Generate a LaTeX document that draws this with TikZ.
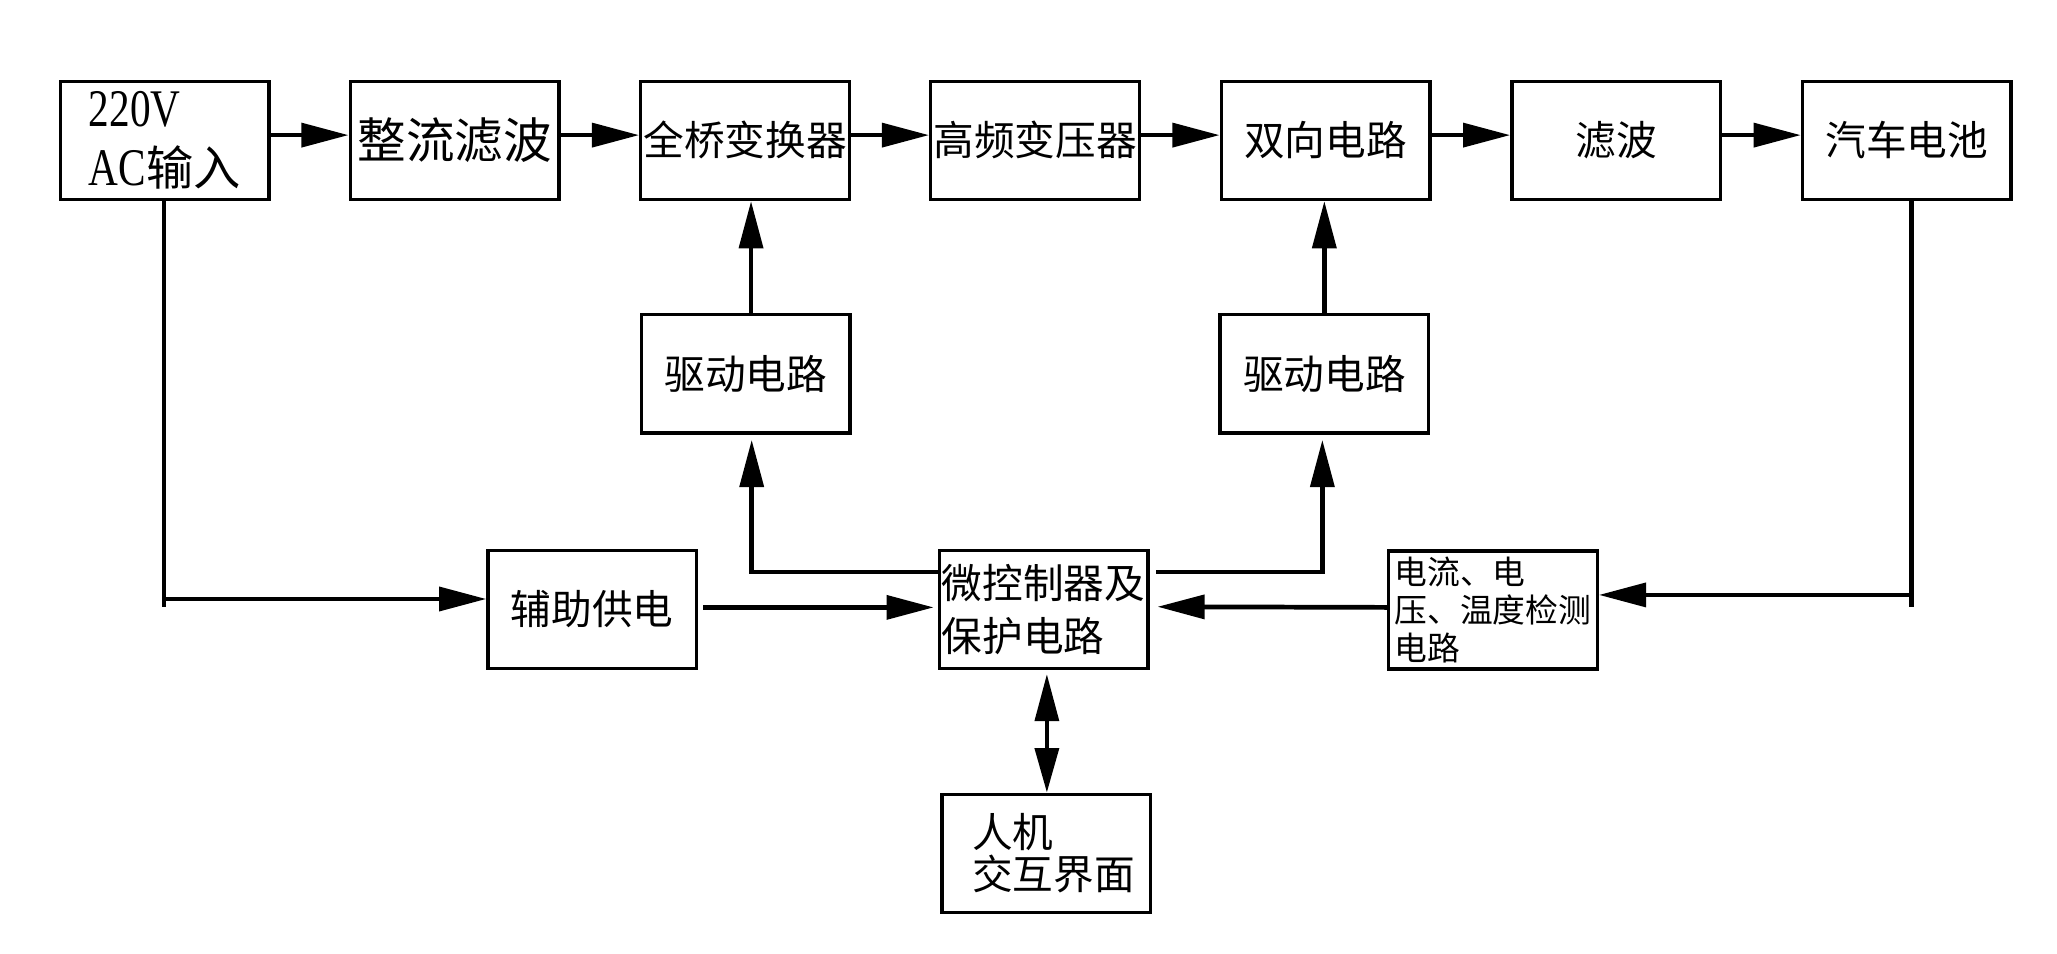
\documentclass[tikz,border=0pt]{standalone}
\usepackage{fontspec}
\setmainfont{Noto Sans CJK SC}
\newfontfamily\latn{Liberation Serif}[FakeStretch=0.78,Scale=1.12]
\usetikzlibrary{arrows.meta}
\tikzset{
  box/.style={draw, line width=1.25pt, minimum width=79.5pt, minimum height=45pt,
    inner sep=0pt, align=left, font=\fontsize{15.5}{20}\selectfont},
  conn/.style={line width=1.8pt},
  arr/.style={conn, -{Triangle[length=18pt,width=9pt]}},
  darr/.style={conn, {Triangle[length=18pt,width=9pt]}-{Triangle[length=17pt,width=9pt]}},
}
\begin{document}
\begin{tikzpicture}[x=0.5pt,y=-0.5pt]
\useasboundingbox (0,0) rectangle (1568,727);
% top row
\node[box, font=\fontsize{18}{22.7}\selectfont] (in) at (125.5,107) {{\latn 220V}\\{\latn AC}输入};
\node[box, font=\fontsize{18.5}{22}\selectfont] (rect) at (346.5,107) {\raisebox{1.5pt}{整流滤波}};
\node[box] (fb) at (568,107) {\raisebox{1.5pt}{全桥变换器}};
\node[box] (hf) at (789,107) {\raisebox{1.5pt}{高频变压器}};
\node[box] (bd) at (1010.5,107) {\raisebox{1.5pt}{双向电路}};
\node[box] (flt) at (1232,107) {\raisebox{1.5pt}{滤波}};
\node[box] (bat) at (1453.5,107) {\raisebox{1.5pt}{汽车电池}};
% drivers
\node[box] (drvL) at (568.5,285) {驱动电路};
\node[box] (drvR) at (1009.5,285) {驱动电路};
% bottom row
\node[box] (aux) at (451.5,464.5) {辅助供电};
\node[box] (mcu) at (795.5,464.5) {\raisebox{-2pt}{微控制器及}\\\raisebox{-2pt}{保护电路}};
\node[box, font=\fontsize{12.5}{14.3}\selectfont] (det) at (1138,465) {电流、电\\压、温度检测\\电路};
\node[box, font=\fontsize{15.5}{16}\selectfont] (hmi) at (797.5,650.5) {\hspace*{5.5pt}人机\\\hspace*{5.5pt}交互界面};
% top row connectors
\draw[arr] ([yshift=2pt]in.east) -- ([yshift=2pt]rect.west);
\draw[arr] ([yshift=2pt]rect.east) -- ([yshift=2pt]fb.west);
\draw[arr] ([yshift=2pt]fb.east) -- ([yshift=2pt]hf.west);
\draw[arr] ([yshift=2pt]hf.east) -- ([yshift=2pt]bd.west);
\draw[arr] ([yshift=2pt]bd.east) -- ([yshift=2pt]flt.west);
\draw[arr] ([yshift=2pt]flt.east) -- ([yshift=2pt]bat.west);
% drivers up
\draw[arr] ([xshift=2pt]drvL.north) -- ([xshift=2pt]drvL.north |- fb.south);
\draw[arr] (drvR.north) -- (drvR.north |- bd.south);
% auxiliary supply from input
\coordinate (jL) at (125,456.6);
\coordinate (jLend) at (125,462.5);
\draw[conn] (jLend |- in.south) -- (jLend);
\draw[arr] (jL) -- (jL -| aux.west);
\draw[arr, shorten <=2pt, shorten >=1.5pt] ([yshift=0.75pt]aux.east) -- ([yshift=0.75pt]mcu.west);
% mcu to drivers
\coordinate (cL) at (573,436);
\coordinate (cR) at (1008,436);
\draw[arr, shorten >=2pt] (mcu.west |- cL) -- (cL) -- (cL |- drvL.south);
\draw[arr, shorten <=2.5pt, shorten >=2pt] (mcu.east |- cR) -- (cR) -- (cR |- drvR.south);
% battery sensing
\coordinate (jR) at (1457,453.5);
\coordinate (jRend) at (1457,462.5);
\draw[conn] (jRend |- bat.south) -- (jRend);
\draw[arr] (jR) -- (jR -| det.east);
\draw[arr, shorten >=3pt] ([yshift=1pt]det.west) -- ([yshift=1pt]mcu.east);
% HMI
\draw[darr, shorten <=1.5pt] ([xshift=1.25pt]mcu.south) -- ([xshift=1.25pt]mcu.south |- hmi.north);
\end{tikzpicture}
\end{document}
